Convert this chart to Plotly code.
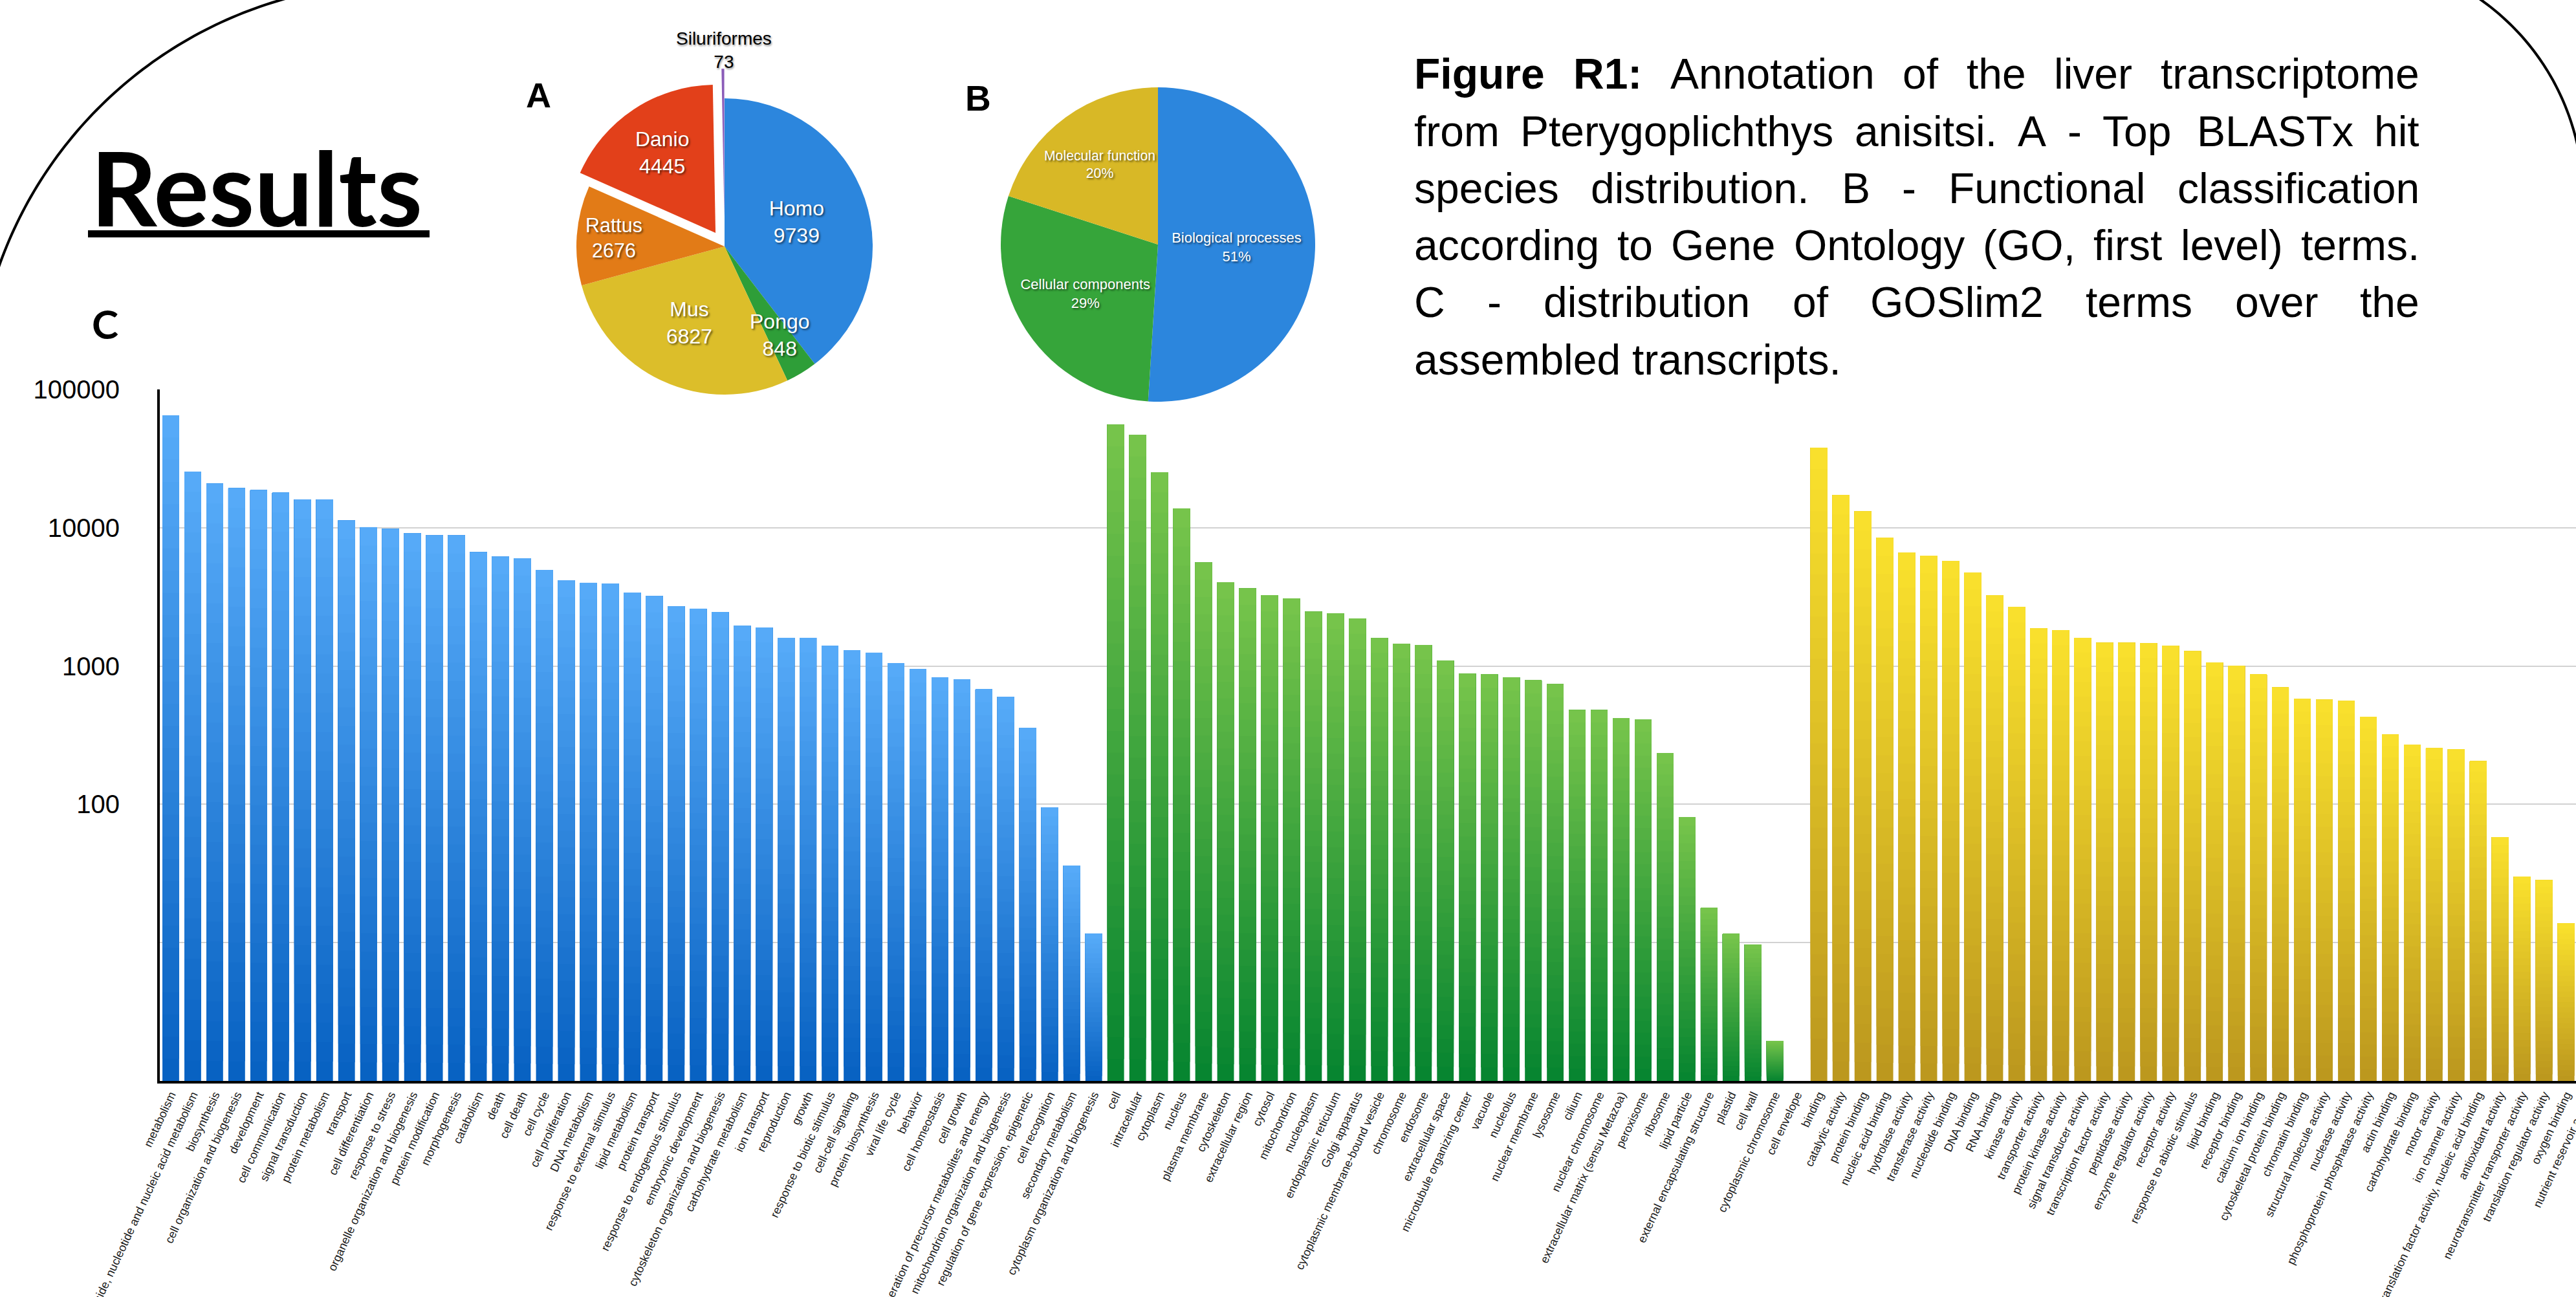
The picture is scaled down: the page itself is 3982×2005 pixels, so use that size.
import numpy as np
import plotly.graph_objects as go

W, H = 4020, 2005

# ---------------- data ----------------
species_labels = ["Homo", "Pongo", "Mus", "Rattus", "Danio", "Siluriformes"]
species_values = [9739, 848, 6827, 2676, 4445, 73]

go_labels = ["Biological processes", "Cellular components", "Molecular function"]
go_percent = [51, 29, 20]

bp_labels = [
    "metabolism", "nucleobase, nucleoside, nucleotide and nucleic acid metabolism",
    "biosynthesis", "cell organization and biogenesis", "development",
    "cell communication", "signal transduction", "protein metabolism", "transport",
    "cell differentiation", "response to stress", "organelle organization and biogenesis",
    "protein modification", "morphogenesis", "catabolism", "death", "cell death",
    "cell cycle", "cell proliferation", "DNA metabolism", "response to external stimulus",
    "lipid metabolism", "protein transport", "response to endogenous stimulus",
    "embryonic development", "cytoskeleton organization and biogenesis",
    "carbohydrate metabolism", "ion transport", "reproduction", "growth",
    "response to biotic stimulus", "cell-cell signaling", "protein biosynthesis",
    "viral life cycle", "behavior", "cell homeostasis", "cell growth",
    "generation of precursor metabolites and energy",
    "mitochondrion organization and biogenesis",
    "regulation of gene expression, epigenetic", "cell recognition",
    "secondary metabolism", "cytoplasm organization and biogenesis"]
bp_values = [65000, 25500, 20800, 19300, 18700, 17900, 16000, 16000, 11250, 10100,
             9800, 9080, 8790, 8790, 6640, 6160, 6000, 4950, 4150, 4000,
             3950, 3400, 3200, 2700, 2600, 2450, 1950, 1900, 1600, 1600,
             1400, 1300, 1250, 1050, 950, 830, 800, 680, 600, 356,
             95, 36, 11.6]

cc_labels = [
    "cell", "intracellular", "cytoplasm", "nucleus", "plasma membrane", "cytoskeleton",
    "extracellular region", "cytosol", "mitochondrion", "nucleoplasm",
    "endoplasmic reticulum", "Golgi apparatus", "cytoplasmic membrane-bound vesicle",
    "chromosome", "endosome", "extracellular space", "microtubule organizing center",
    "vacuole", "nucleolus", "nuclear membrane", "lysosome", "cilium",
    "nuclear chromosome", "extracellular matrix (sensu Metazoa)", "peroxisome",
    "ribosome", "lipid particle", "external encapsulating structure", "plastid",
    "cell wall", "cytoplasmic chromosome", "cell envelope"]
cc_values = [55600, 47000, 25200, 13800, 5600, 4040, 3640, 3250, 3080, 2470,
             2400, 2210, 1590, 1450, 1420, 1090, 880, 870, 830, 790,
             740, 480, 480, 420, 410, 235, 81, 17.9, 11.6, 9.7,
             1.95, 1]

mf_labels = [
    "binding", "catalytic activity", "protein binding", "nucleic acid binding",
    "hydrolase activity", "transferase activity", "nucleotide binding", "DNA binding",
    "RNA binding", "kinase activity", "transporter activity", "protein kinase activity",
    "signal transducer activity", "transcription factor activity", "peptidase activity",
    "enzyme regulator activity", "receptor activity", "response to abiotic stimulus",
    "lipid binding", "receptor binding", "calcium ion binding",
    "cytoskeletal protein binding", "chromatin binding", "structural molecule activity",
    "nuclease activity", "phosphoprotein phosphatase activity", "actin binding",
    "carbohydrate binding", "motor activity", "ion channel activity",
    "translation factor activity, nucleic acid binding", "antioxidant activity",
    "neurotransmitter transporter activity", "translation regulator activity",
    "oxygen binding", "nutrient reservoir activity"]
mf_values = [37800, 17200, 13100, 8450, 6620, 6260, 5750, 4750, 3240, 2680,
             1870, 1820, 1600, 1470, 1470, 1460, 1400, 1280, 1060, 1000,
             870, 700, 580, 570, 560, 430, 320, 270, 255, 250,
             205, 58, 30, 28.3, 13.8, 8]

y_tick_vals = [10, 100, 1000, 10000, 100000]
y_tick_text = ["", "100", "1000", "10000", "100000"]

caption_lines = [
    "Figure R1: Annotation of the liver transcriptome",
    "from Pterygoplichthys anisitsi. A - Top BLASTx hit",
    "species distribution. B - Functional classification",
    "according to Gene Ontology (GO, first level) terms.",
    "C - distribution of GOSlim2 terms over the",
    "assembled transcripts.",
]

# ---------------- helpers ----------------
def hex2rgb(h):
    h = h.lstrip("#")
    return np.array([int(h[i:i + 2], 16) for i in (0, 2, 4)], dtype=float)

def mix(c1, c2, t):
    c = hex2rgb(c1) * (1 - t) + hex2rgb(c2) * t
    return "rgb(%d,%d,%d)" % tuple(np.round(c).astype(int))

def px(x):
    return x / W

def py(y):
    return 1 - y / H

fig = go.Figure()

# ---------------- bar chart (per-bar vertical gradient) ----------------
all_labels = bp_labels + cc_labels + mf_labels
groups = [
    (bp_values, 0, "#0862C2", "#56AAF8"),
    (cc_values, len(bp_labels), "#078530", "#76C44B"),
    (mf_values, len(bp_labels) + len(cc_labels), "#BC981E", "#F9E02D"),
]
NSEG = 30
for vals, start, bot, top in groups:
    v = np.array(vals, dtype=float)
    xs = np.arange(start, start + len(v))
    L = np.log10(v)
    for k in range(NSEG):
        base = 10 ** (L * k / NSEG)
        fig.add_trace(go.Bar(
            x=xs, y=v - base, base=base, width=0.76,
            marker=dict(color=mix(bot, top, k / (NSEG - 1)), line=dict(width=0)),
            hoverinfo="skip", showlegend=False))

x_left, x_right = 247, 247 + 111 * 33.97
fig.update_layout(
    barmode="overlay",
    xaxis=dict(domain=[px(x_left), px(x_right)], range=[-0.5, len(all_labels) - 0.5],
               tickmode="array", tickvals=list(range(len(all_labels))), ticktext=all_labels,
               tickangle=-65, tickfont=dict(family="Liberation Sans, Arial, sans-serif",
                                            size=18, color="#1a1a1a"),
               showgrid=False, zeroline=False, showline=True, linecolor="black",
               linewidth=4, ticks="", automargin=False),
    yaxis=dict(domain=[py(1671), py(602)], type="log", range=[0, 5],
               tickmode="array", tickvals=y_tick_vals, ticktext=y_tick_text,
               tickfont=dict(family="Liberation Sans, Arial, sans-serif", size=40,
                             color="black"),
               ticklabelstandoff=50,
               showgrid=True, gridcolor="#D2D2D2", gridwidth=2, zeroline=False,
               showline=True, linecolor="black", linewidth=4, ticks="",
               automargin=False),
)

# ---------------- pie A ----------------
rA, cxA, cyA, pullA = 229, 1120, 381, 0.2
hA = rA * (1 + pullA)
fig.add_trace(go.Pie(
    labels=species_labels, values=species_values, sort=False, direction="clockwise",
    rotation=0, pull=[0, 0, 0, 0, 0.11, 0.2],
    marker=dict(colors=["#2C86DD", "#2E9E38", "#DCBE2A", "#E27B17", "#E2401A", "#8B5CB8"],
                line=dict(width=0)),
    texttemplate="%{label}<br>%{value}",
    textposition=["inside", "none", "inside", "inside", "inside", "none"],
    insidetextorientation="horizontal",
    insidetextfont=dict(family="Liberation Sans, Arial, sans-serif", size=32, color="white",
                        shadow="2px 2px 3px rgba(0,0,0,0.55)"),
    domain=dict(x=[px(cxA - hA), px(cxA + hA)], y=[py(cyA + hA), py(cyA - hA)]),
    showlegend=False, hoverinfo="skip"))

# ---------------- pie B ----------------
rB, cxB, cyB = 243, 1790, 378
fig.add_trace(go.Pie(
    labels=go_labels, values=go_percent, sort=False, direction="clockwise", rotation=0,
    marker=dict(colors=["#2C86DD", "#36A53A", "#D8B826"], line=dict(width=0)),
    texttemplate="%{label}<br>%{value}%", textposition="inside",
    insidetextorientation="horizontal",
    insidetextfont=dict(family="Liberation Sans, Arial, sans-serif", size=22, color="white",
                        shadow="2px 2px 3px rgba(0,0,0,0.55)"),
    domain=dict(x=[px(cxB - rB), px(cxB + rB)], y=[py(cyB + rB), py(cyB - rB)]),
    showlegend=False, hoverinfo="skip"))

# ---------------- shapes ----------------
shapes = []
# white panel behind the caption
shapes.append(dict(type="rect", xref="paper", yref="paper", x0=px(2070), x1=1.0,
                   y0=py(612), y1=1.0, fillcolor="white", line=dict(width=0), layer="above"))
# "Results" underline
shapes.append(dict(type="rect", xref="paper", yref="paper", x0=px(136), x1=px(664),
                   y0=py(367), y1=py(356), fillcolor="black", line=dict(width=0),
                   layer="above"))

def arc_path(cx, cy, r, a0, a1, n=80):
    th = np.radians(np.linspace(a0, a1, n))
    xs = cx + r * np.cos(th)
    ys = cy - r * np.sin(th)
    pts = ["%.5f,%.5f" % (px(x), py(y)) for x, y in zip(xs, ys)]
    return "M " + " L ".join(pts)

shapes.append(dict(type="path", xref="paper", yref="paper",
                   path=arc_path(617, 630, 656, 100, 165), line=dict(color="black", width=4),
                   layer="above"))
shapes.append(dict(type="path", xref="paper", yref="paper",
                   path=arc_path(3619, 305, 374, 62, -5), line=dict(color="black", width=4),
                   layer="above"))

# ---------------- annotations ----------------
ann = []
def add_text(text, x, y, size, family="Liberation Sans, Arial, sans-serif", color="black",
             xanchor="center", yanchor="middle", shadow=None):
    f = dict(family=family, size=size, color=color)
    if shadow:
        f["shadow"] = shadow
    ann.append(dict(text=text, x=px(x), y=py(y), xref="paper", yref="paper",
                    xanchor=xanchor, yanchor=yanchor, showarrow=False, font=f))

add_text("<b>Results</b>", 138, 288, 160, family="Lato, Calibri, sans-serif",
         xanchor="left")
add_text("<b>C</b>", 162, 500, 62, family="Lato, Calibri, sans-serif")
add_text("<b>A</b>", 832, 147, 54)
add_text("<b>B</b>", 1512, 152, 55)
add_text("%s<br>%d" % (species_labels[5], species_values[5]), 1119, 78, 28,
         shadow="1px 2px 3px rgba(0,0,0,0.45)")
add_text("%s<br>%d" % (species_labels[1], species_values[1]), 1205, 518, 32,
         color="white", shadow="2px 2px 3px rgba(0,0,0,0.55)")

# justified caption (Arial metrics)
REG = dict(zip("abcdefghijklmnopqrstuvwxyz",
               [556, 556, 500, 556, 556, 278, 556, 556, 222, 222, 500, 222, 833, 556, 556,
                556, 556, 333, 500, 278, 556, 500, 722, 500, 500, 500]))
REG.update(dict(zip("ABCDEFGHIJKLMNOPQRSTUVWXYZ",
                    [667, 667, 722, 722, 667, 611, 778, 722, 278, 500, 667, 556, 833, 722,
                     778, 667, 778, 722, 667, 611, 722, 667, 944, 667, 667, 611])))
REG.update({c: 556 for c in "0123456789"})
REG.update({" ": 278, ".": 278, ",": 278, ":": 278, "-": 333, "(": 333, ")": 333})
BOLD = dict(REG)
BOLD.update({"F": 611, "i": 278, "g": 611, "u": 611, "r": 389, "e": 556, "R": 722,
             "1": 556, ":": 333})

cap_size = 66
cap_left, cap_right = 2184, 3738
cap_y = [114, 203, 291, 379, 467, 556]
for li, line in enumerate(caption_lines):
    words = line.split(" ")
    bold = [li == 0 and wi < 2 for wi in range(len(words))]
    widths = [sum((BOLD if b else REG).get(c, 556) for c in w) * cap_size / 1000
              for w, b in zip(words, bold)]
    if li < len(caption_lines) - 1 and len(words) > 1:
        gap = (cap_right - cap_left - sum(widths)) / (len(words) - 1)
    else:
        gap = 278 * cap_size / 1000
    xcur = cap_left
    for w, wd, b in zip(words, widths, bold):
        add_text(("<b>%s</b>" % w) if b else w, xcur, cap_y[li], cap_size,
                 xanchor="left")
        xcur += wd + gap

fig.update_layout(
    width=W, height=H, margin=dict(l=0, r=0, t=0, b=0),
    paper_bgcolor="white", plot_bgcolor="white",
    showlegend=False, shapes=shapes, annotations=ann,
)

fig.write_html(
    "out.html",
    config={"displayModeBar": False},
    post_script="document.body.style.margin='0';document.body.style.overflow='hidden';"
                "document.documentElement.style.overflow='hidden';",
)
